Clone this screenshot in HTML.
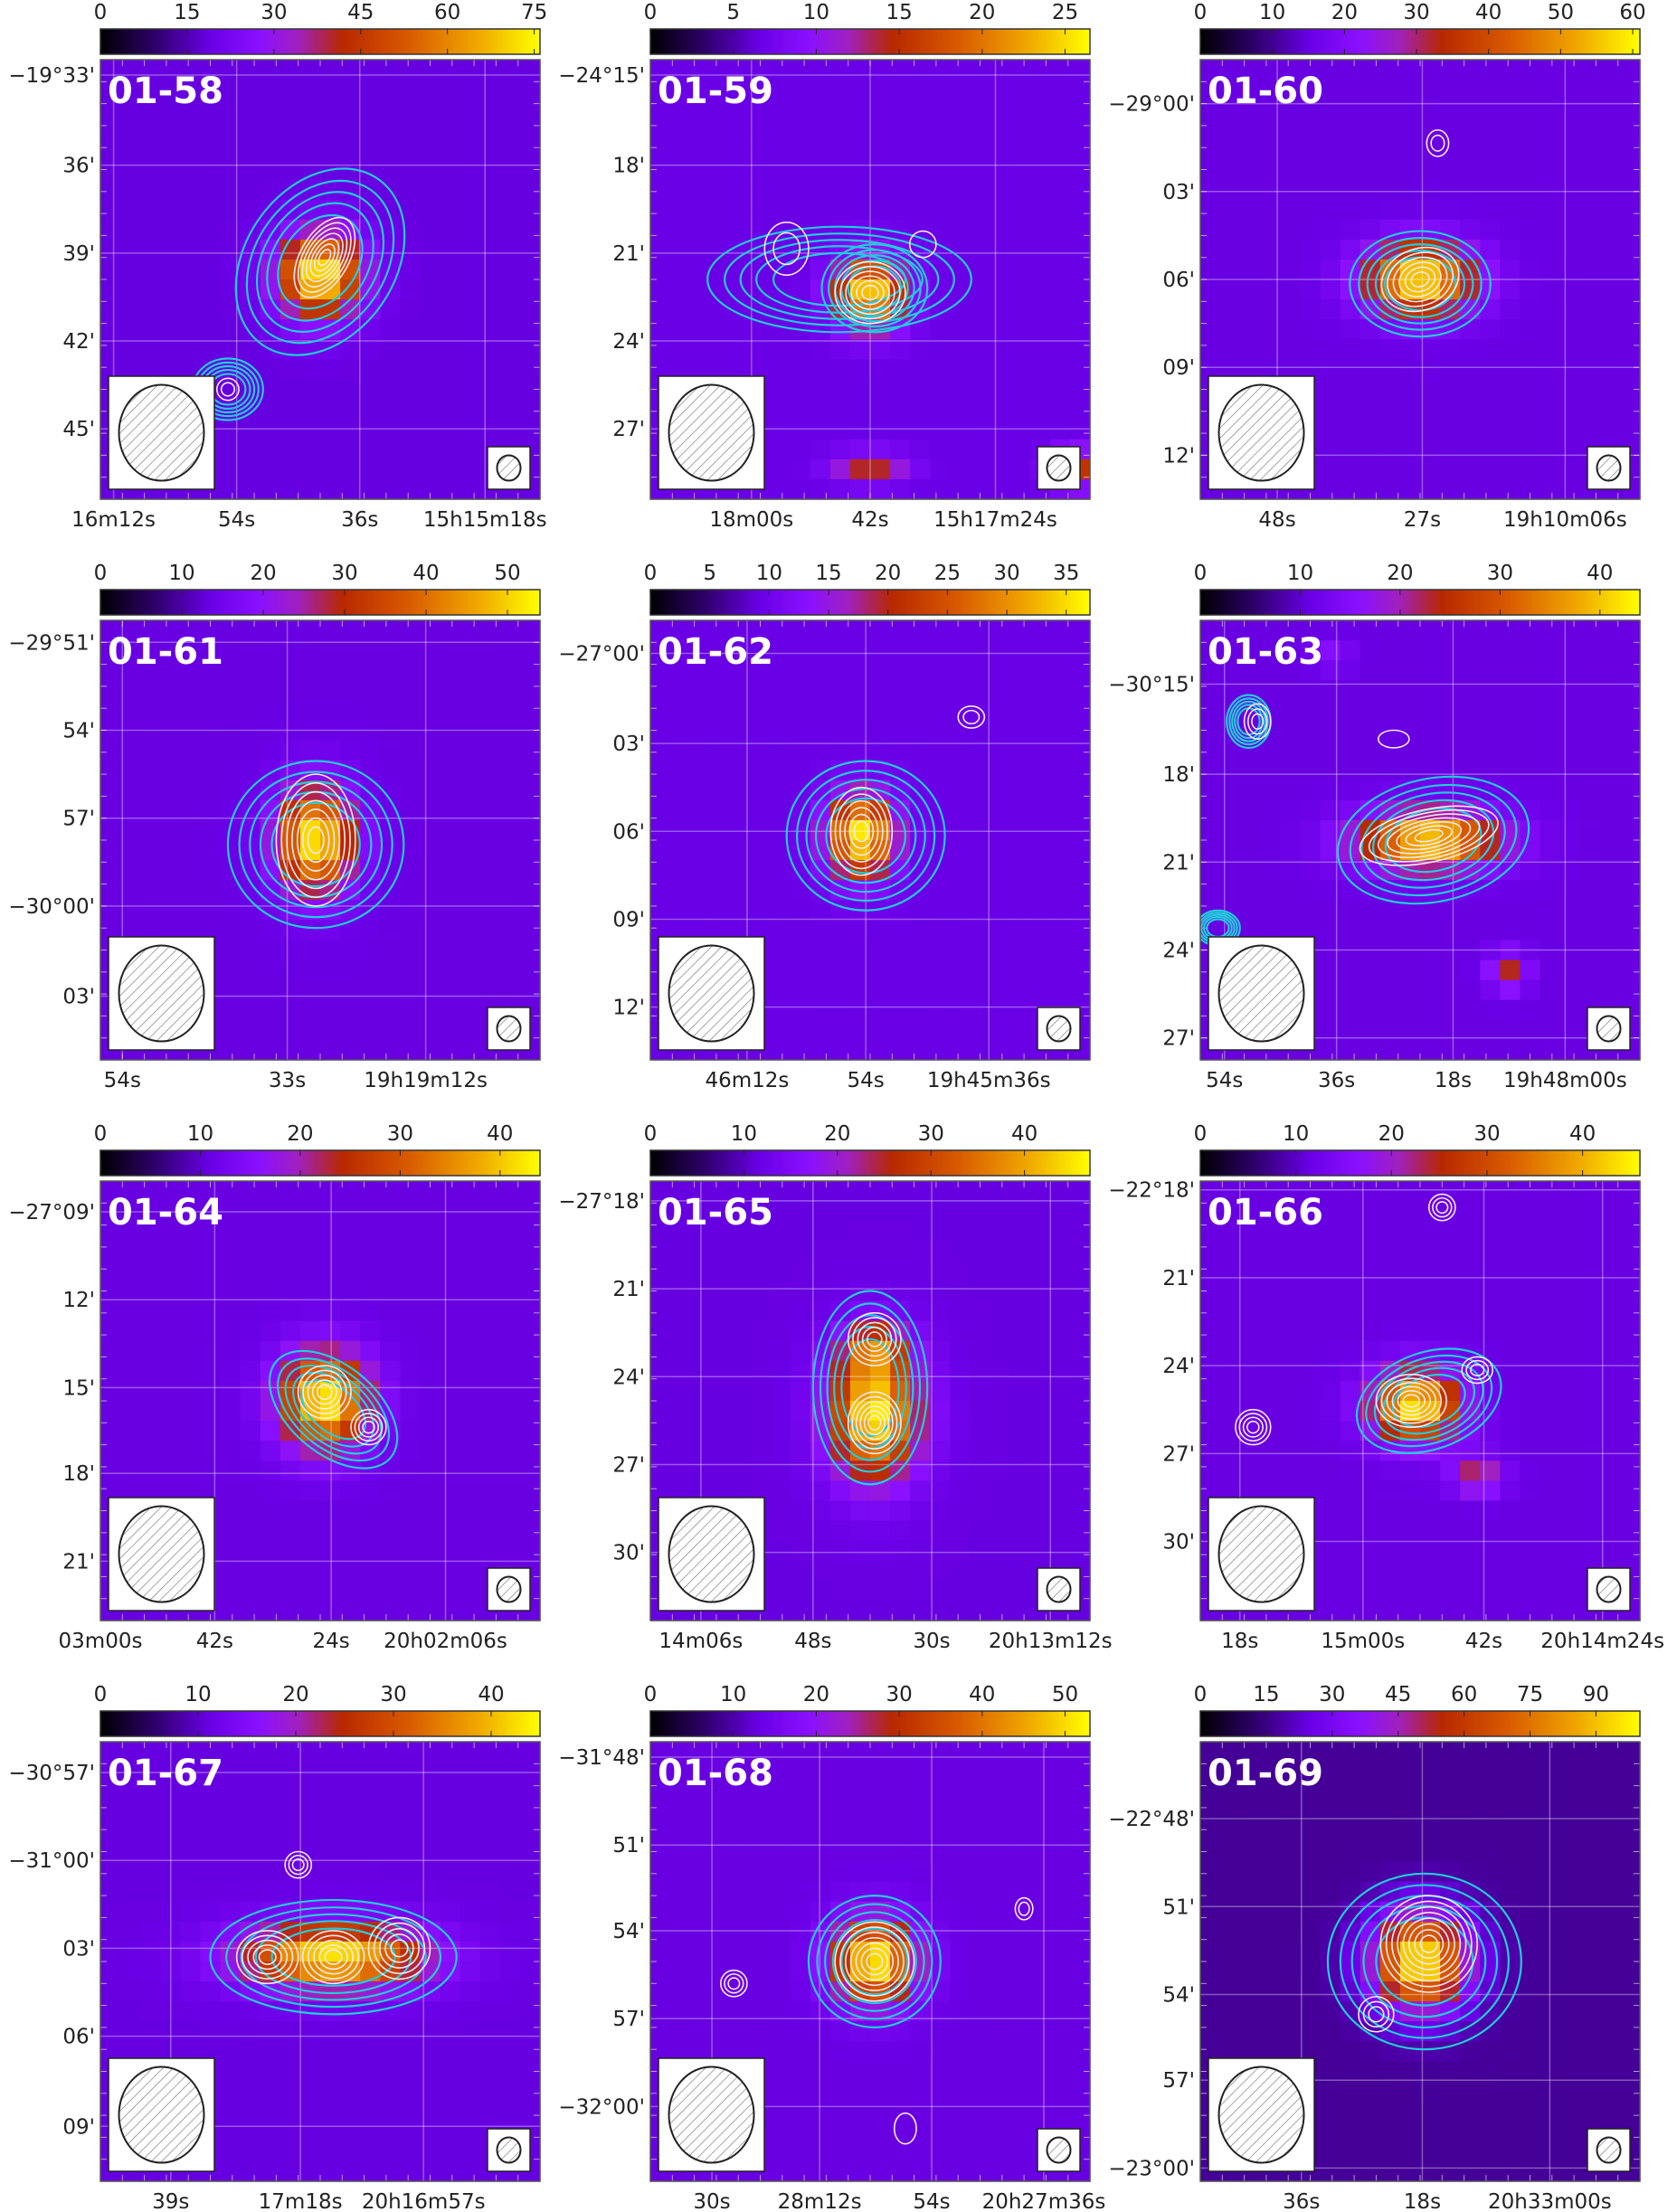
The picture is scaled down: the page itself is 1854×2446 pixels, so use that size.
<!DOCTYPE html>
<html><head><meta charset="utf-8">
<style>
html,body{margin:0;padding:0;background:#fff;}
svg{display:block;font-family:"DejaVu Sans","Liberation Sans",sans-serif;}
</style></head>
<body>
<svg id="fig" width="1854" height="2446" viewBox="0 0 1854 2446" xmlns="http://www.w3.org/2000/svg">
<defs>
<linearGradient id="cbgrad" x1="0" x2="1" y1="0" y2="0">
<stop offset="0" stop-color="#000000"/><stop offset="0.12" stop-color="#2c0066"/>
<stop offset="0.25" stop-color="#6a00e6"/><stop offset="0.36" stop-color="#8a10ff"/>
<stop offset="0.45" stop-color="#a020c0"/><stop offset="0.55" stop-color="#b82800"/>
<stop offset="0.7" stop-color="#d85a00"/><stop offset="0.86" stop-color="#f0a800"/>
<stop offset="1" stop-color="#ffff00"/></linearGradient>
<pattern id="hatch" width="8" height="8" patternUnits="userSpaceOnUse" patternTransform="rotate(45)">
<line x1="0" y1="0" x2="0" y2="8" stroke="#888" stroke-width="1.5"/></pattern>
</defs>
</svg>
<script>
const names=["01-58","01-59","01-60","01-61","01-62","01-63","01-64","01-65","01-66","01-67","01-68","01-69"];
const cbarMax=[76,26.5,61,54,37,44,44,47,46,45,53,100];
const cbarStep=[15,5,10,10,5,10,10,10,10,10,10,15];
const bgLevel=[18.5,6.6,15,13.3,9.2,10.8,10.8,11.5,11.3,11,13,17];
const yLabels=[["−19°33'","36'","39'","42'","45'"],["−24°15'","18'","21'","24'","27'"],["−29°00'","03'","06'","09'","12'"],
["−29°51'","54'","57'","−30°00'","03'"],["−27°00'","03'","06'","09'","12'"],["−30°15'","18'","21'","24'","27'"],
["−27°09'","12'","15'","18'","21'"],["−27°18'","21'","24'","27'","30'"],["−22°18'","21'","24'","27'","30'"],
["−30°57'","−31°00'","03'","06'","09'"],["−31°48'","51'","54'","57'","−32°00'"],["−22°48'","51'","54'","57'","−23°00'"]];
const yTickFrac=[[0.035,0.24,0.44,0.64,0.84],[0.035,0.24,0.44,0.64,0.84],[0.10,0.30,0.50,0.70,0.90],
[0.05,0.25,0.45,0.65,0.855],[0.075,0.28,0.48,0.68,0.88],[0.145,0.35,0.55,0.75,0.95],
[0.07,0.27,0.47,0.665,0.865],[0.045,0.245,0.445,0.645,0.845],[0.02,0.22,0.42,0.62,0.82],
[0.07,0.27,0.47,0.67,0.875],[0.035,0.235,0.43,0.63,0.83],[0.175,0.375,0.575,0.77,0.97]];
const xLabels=[["16m12s","54s","36s","15h15m18s"],["18m00s","42s","15h17m24s"],["48s","27s","19h10m06s"],
["54s","33s","19h19m12s"],["46m12s","54s","19h45m36s"],["54s","36s","18s","19h48m00s"],
["03m00s","42s","24s","20h02m06s"],["14m06s","48s","30s","20h13m12s"],["18s","15m00s","42s","20h14m24s"],
["39s","17m18s","20h16m57s"],["30s","28m12s","54s","20h27m36s"],["36s","18s","20h33m00s"]];
const xTickFrac=[[0.03,0.31,0.59,0.875],[0.23,0.50,0.785],[0.175,0.505,0.83],
[0.05,0.425,0.74],[0.22,0.49,0.77],[0.055,0.31,0.575,0.83],
[0.0,0.26,0.525,0.785],[0.115,0.37,0.64,0.91],[0.09,0.37,0.645,0.915],
[0.16,0.455,0.735],[0.14,0.385,0.64,0.895],[0.23,0.505,0.795]];
// heat sources: [fx, fy, sigmaX, sigmaY, peak]
const heatSources=[
[[0.50,0.49,0.065,0.065,57]],
[[0.50,0.53,0.055,0.055,19],[0.50,0.93,0.06,0.025,8],[0.97,0.93,0.04,0.03,9]],
[[0.50,0.50,0.085,0.055,45]],
[[0.49,0.50,0.06,0.08,40]],
[[0.48,0.49,0.055,0.065,27]],
[[0.52,0.50,0.11,0.045,32],[0.70,0.80,0.03,0.03,13],[0.30,0.08,0.03,0.025,5]],
[[0.51,0.50,0.07,0.075,33]],
[[0.51,0.53,0.07,0.10,35],[0.51,0.38,0.05,0.04,16]],
[[0.49,0.51,0.07,0.055,34],[0.63,0.67,0.04,0.03,13]],
[[0.53,0.49,0.14,0.05,33]],
[[0.51,0.50,0.065,0.065,40]],
[[0.50,0.50,0.075,0.075,82]]];
// cyan contour sets: [fx, fy, rx, ry, angleDeg]
const cyanContours=[
[[0.50,0.46,0.23,0.17,-55],[0.29,0.75,0.08,0.07,0]],
[[0.43,0.50,0.30,0.12,0],[0.51,0.52,0.12,0.10,0]],
[[0.50,0.51,0.16,0.12,0]],
[[0.49,0.51,0.20,0.19,0]],
[[0.49,0.49,0.18,0.17,0]],
[[0.53,0.50,0.22,0.14,-12],[0.11,0.23,0.05,0.06,0],[0.04,0.70,0.05,0.04,0]],
[[0.53,0.52,0.17,0.10,40]],
[[0.50,0.47,0.13,0.22,0]],
[[0.52,0.50,0.17,0.11,-20]],
[[0.53,0.49,0.28,0.13,0]],
[[0.51,0.50,0.15,0.15,0]],
[[0.51,0.50,0.22,0.20,0]]];
// white contour sets: [fx, fy, rx, ry, angleDeg, count]
const whiteContours=[
[[0.51,0.45,0.10,0.055,-60,7],[0.29,0.75,0.025,0.025,0,2]],
[[0.50,0.53,0.08,0.07,0,6],[0.31,0.43,0.05,0.06,0,2],[0.62,0.42,0.03,0.03,0,1]],
[[0.50,0.50,0.09,0.07,-20,6],[0.54,0.19,0.025,0.03,0,2]],
[[0.49,0.50,0.09,0.15,0,7]],
[[0.48,0.48,0.07,0.10,0,6],[0.73,0.22,0.03,0.025,0,2]],
[[0.52,0.49,0.16,0.06,-12,7],[0.13,0.23,0.03,0.04,0,3],[0.44,0.27,0.035,0.02,0,1]],
[[0.51,0.48,0.06,0.06,0,5],[0.61,0.56,0.04,0.04,0,4]],
[[0.51,0.36,0.06,0.06,0,5],[0.51,0.55,0.06,0.07,0,6]],
[[0.48,0.50,0.08,0.06,0,6],[0.63,0.43,0.035,0.03,0,3],[0.12,0.56,0.04,0.04,0,4],[0.55,0.06,0.03,0.03,0,3]],
[[0.38,0.49,0.07,0.06,0,5],[0.53,0.49,0.07,0.06,0,5],[0.68,0.47,0.07,0.07,0,5],[0.45,0.28,0.03,0.03,0,3]],
[[0.51,0.50,0.09,0.09,0,7],[0.19,0.55,0.03,0.03,0,3],[0.85,0.38,0.02,0.025,0,2],[0.58,0.88,0.025,0.035,0,1]],
[[0.52,0.46,0.11,0.11,-20,8],[0.40,0.62,0.04,0.04,0,3]]];

const svg=document.getElementById('fig');
const NS="http://www.w3.org/2000/svg";
const colLeft=[111,719,1327], rowTop=[66,686,1306,1926], S=486, NC=22;
const stops=[[0,[0,0,0]],[0.12,[44,0,102]],[0.25,[106,0,230]],[0.36,[138,16,255]],[0.45,[160,32,192]],[0.55,[184,40,0]],[0.7,[216,90,0]],[0.86,[240,168,0]],[1,[255,255,0]]];
function cmap(t){t=Math.max(0,Math.min(1,t));for(let i=1;i<stops.length;i++){if(t<=stops[i][0]){const a=stops[i-1],b=stops[i];const u=(t-a[0])/(b[0]-a[0]);const c=a[1].map((v,k)=>Math.round(v+(b[1][k]-v)*u));return `rgb(${c[0]},${c[1]},${c[2]})`;}}return 'rgb(255,255,0)';}
function el(tag,attrs,parent){const e=document.createElementNS(NS,tag);for(const k in attrs)e.setAttribute(k,attrs[k]);(parent||svg).appendChild(e);return e;}

for(let p=0;p<12;p++){
  const x0=colLeft[p%3], y0=rowTop[Math.floor(p/3)];
  const g=el('g',{});
  
  
  const sx=f=>x0+f*S, sy=f=>y0+f*S;
  const cb=el('rect',{x:x0,y:y0-34,width:S,height:28,fill:'url(#cbgrad)',stroke:'#333','stroke-width':1.5},g);
  
  
  for(let v=0;v<=cbarMax[p]+0.01;v+=cbarStep[p]){
    const tx=x0+v/cbarMax[p]*S;
    el('line',{x1:tx,x2:tx,y1:y0-34,y2:y0-28,stroke:'#222','stroke-width':1},g);
    el('line',{x1:tx,x2:tx,y1:y0-12,y2:y0-6,stroke:'#222','stroke-width':1},g);
    const t=el('text',{x:tx,y:y0-45,'font-size':23,'text-anchor':'middle',fill:'#222'},g);
    t.textContent=String(v);
    
    
  }
  const hm=el('g',{},g);
  
  
  const cs=S/NC;
  for(let i=0;i<NC;i++)for(let j=0;j<NC;j++){
    const fx=(i+0.5)/NC, fy=(j+0.5)/NC;
    let v=bgLevel[p];
    for(const s of heatSources[p]){v+=s[4]*Math.exp(-((fx-s[0])**2/(2*s[2]**2)+(fy-s[1])**2/(2*s[3]**2)));}
    const r=el('rect',{x:x0+i*cs,y:y0+j*cs,width:cs+0.6,height:cs+0.6,fill:cmap(v/cbarMax[p])},hm);
    
    
  }
  for(const f of xTickFrac[p]){el('line',{x1:sx(f),x2:sx(f),y1:y0,y2:y0+S,stroke:'#fff','stroke-opacity':0.35,'stroke-width':1.5},g);}
  for(const f of yTickFrac[p]){el('line',{x1:x0,x2:x0+S,y1:sy(f),y2:sy(f),stroke:'#fff','stroke-opacity':0.35,'stroke-width':1.5},g);}
  for(let k=1;k<20;k++){const f=k/20;
    el('line',{x1:sx(f),x2:sx(f),y1:y0,y2:y0+7,stroke:'#fff','stroke-opacity':0.6},g);
    el('line',{x1:sx(f),x2:sx(f),y1:y0+S-7,y2:y0+S,stroke:'#fff','stroke-opacity':0.6},g);
    el('line',{x1:x0,x2:x0+7,y1:sy(f),y2:sy(f),stroke:'#fff','stroke-opacity':0.6},g);
    el('line',{x1:x0+S-7,x2:x0+S,y1:sy(f),y2:sy(f),stroke:'#fff','stroke-opacity':0.6},g);}
  const clip='c'+p;
  const cp=el('clipPath',{id:clip},g); el('rect',{x:x0,y:y0,width:S,height:S},cp);
  const cg=el('g',{'clip-path':`url(#${clip})`},g);
  for(const c of cyanContours[p]){
    for(const k of [1,0.87,0.75,0.63,0.5]){
      const e=el('ellipse',{cx:sx(c[0]),cy:sy(c[1]),rx:c[2]*S*k,ry:c[3]*S*k,fill:'none',stroke:'#22ccdd','stroke-width':2.2,transform:`rotate(${c[4]} ${sx(c[0])} ${sy(c[1])})`},cg);
      
      
    }
  }
  for(const c of whiteContours[p]){
    for(let k=0;k<c[5];k++){const s=1-k/(c[5]+0.5);
      const e=el('ellipse',{cx:sx(c[0]),cy:sy(c[1]),rx:c[2]*S*s,ry:c[3]*S*s,fill:'none',stroke:'#fbe8f4','stroke-width':1.6,transform:`rotate(${c[4]} ${sx(c[0])} ${sy(c[1])})`},cg);
      
      
    }
  }
  el('rect',{x:x0,y:y0,width:S,height:S,fill:'none',stroke:'#555','stroke-width':1.5},g);
  const bb=el('rect',{x:x0+9,y:y0+S-136,width:117,height:125,fill:'#fff',stroke:'#222','stroke-width':1.5},g);
  
  
  el('ellipse',{cx:x0+67.5,cy:y0+S-73.5,rx:47,ry:53,fill:'url(#hatch)',stroke:'#222','stroke-width':2},g);
  const sb=el('rect',{x:x0+S-58,y:y0+S-58,width:47,height:47,fill:'#fff',stroke:'#222','stroke-width':1.5},g);
  
  
  el('ellipse',{cx:x0+S-34.5,cy:y0+S-34.5,rx:13,ry:14,fill:'url(#hatch)',stroke:'#222','stroke-width':2},g);
  const lb=el('text',{x:x0+8,y:y0+48,'font-size':40,'font-weight':'bold',fill:'#fff'},g);
  lb.textContent=names[p];
  
  
  yLabels[p].forEach((s,i)=>{const t=el('text',{x:x0-6,y:sy(yTickFrac[p][i])+8,'font-size':23,'text-anchor':'end',fill:'#222'},g);t.textContent=s;
    
    });
  xLabels[p].forEach((s,i)=>{const t=el('text',{x:sx(xTickFrac[p][i]),y:y0+S+30,'font-size':23,'text-anchor':'middle',fill:'#222'},g);t.textContent=s;
    
    });
}
</script>
</body></html>
